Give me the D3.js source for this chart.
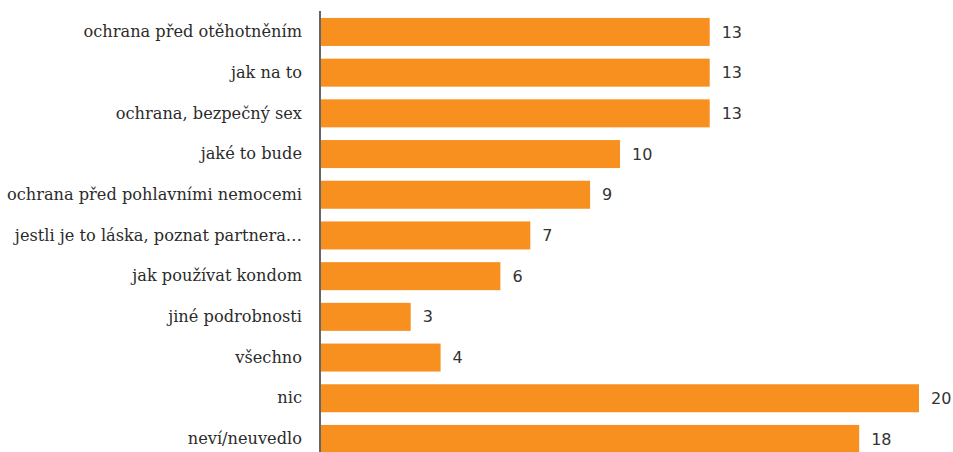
<!DOCTYPE html>
<html>
<head>
<meta charset="utf-8">
<script src="https://cdn.jsdelivr.net/npm/d3@7"></script>
<style>
  html, body { margin: 0; padding: 0; background: #fff; }
  svg { display: block; }
</style>
</head>
<body>
<svg id="chart" width="953" height="452"></svg>
<script>
// Categories and counts, top to bottom
const categories = [
  "ochrana před otěhotněním",
  "jak na to",
  "ochrana, bezpečný sex",
  "jaké to bude",
  "ochrana před pohlavními nemocemi",
  "jestli je to láska, poznat partnera…",
  "jak používat kondom",
  "jiné podrobnosti",
  "všechno",
  "nic",
  "neví/neuvedlo"
];
const values = [13, 13, 13, 10, 9, 7, 6, 3, 4, 20, 18];

const data = categories.map((c, i) => ({ category: c, value: values[i] }));

const svg = d3.select("#chart");
const width = 953, height = 452;
const axisX = 320;

const x = d3.scaleLinear()
  .domain([0, 20])
  .range([axisX, axisX + 598]);

const y = d3.scaleBand()
  .domain(categories)
  .range([11.6, 459.3])
  .paddingInner(0.312)
  .paddingOuter(0.156);

// Bars
svg.append("g")
  .selectAll("rect")
  .data(data)
  .join("rect")
  .attr("x", x(0) + 1)
  .attr("y", d => y(d.category))
  .attr("width", d => x(d.value) - x(0))
  .attr("height", y.bandwidth())
  .attr("fill", "#F7901E");

// Value labels
svg.append("g")
  .selectAll("text")
  .data(data)
  .join("text")
  .attr("x", d => x(d.value) + 13)
  .attr("y", d => y(d.category) + y.bandwidth() / 2)
  .attr("dy", "0.35em")
  .attr("font-family", "'DejaVu Sans', sans-serif")
  .attr("font-size", 16)
  .attr("fill", "#333")
  .text(d => d3.format("d")(d.value));

// Category axis on the left
const yAxis = d3.axisLeft(y).tickSize(0).tickPadding(18);
const gAxis = svg.append("g")
  .attr("transform", `translate(${axisX},0)`)
  .call(yAxis);
gAxis.select(".domain").remove();
gAxis.selectAll("text")
  .attr("font-family", "'DejaVu Serif', serif")
  .attr("font-size", 16.2)
  .attr("fill", "#2b2b2b");

// Axis line
svg.append("line")
  .attr("x1", axisX).attr("x2", axisX)
  .attr("y1", 11).attr("y2", height)
  .attr("stroke", "#333")
  .attr("stroke-width", 1.5);
</script>
</body>
</html>
